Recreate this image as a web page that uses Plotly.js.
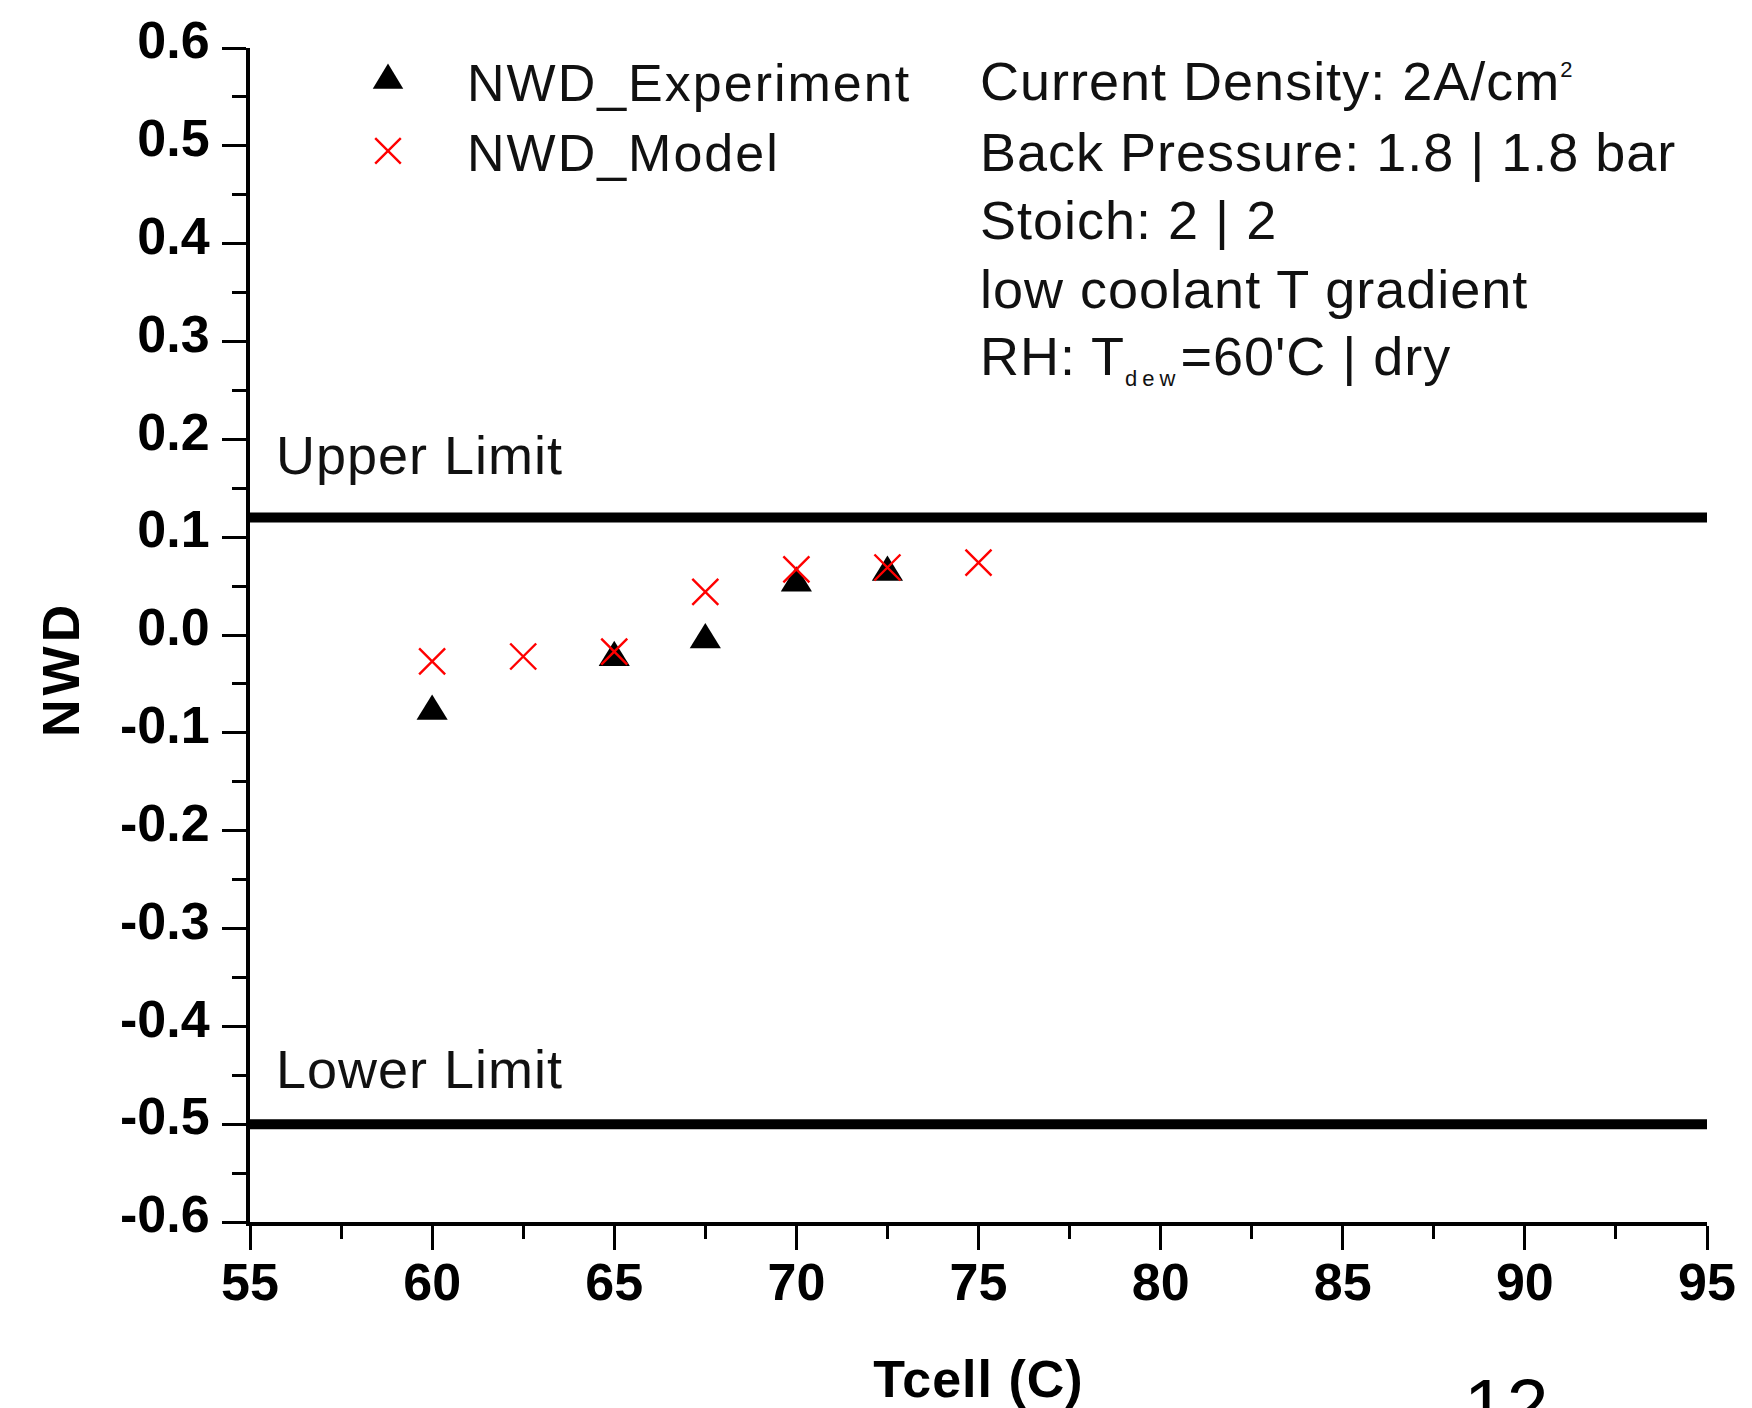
<!DOCTYPE html>
<html>
<head>
<meta charset="utf-8">
<script src="https://cdn.plot.ly/plotly-3.0.1.min.js"></script>
<style>
  html, body { margin: 0; padding: 0; background: #ffffff; }
  #chart { width: 1752px; height: 1408px; }
  text.annotation-text { letter-spacing: 1px; }
  text.legendtext { letter-spacing: 2px; }
  text.xtitle { letter-spacing: 1px; }
</style>
</head>
<body>
<div id="chart"></div>
<script>
// ---- data ----
const expName = 'NWD_Experiment';
const expT = [60, 65, 67.5, 70, 72.5];
const expNWD = [-0.078, -0.023, -0.005, 0.053, 0.064];

const modelName = 'NWD_Model';
const modelT = [60, 62.5, 65, 67.5, 70, 72.5, 75];
const modelNWD = [-0.027, -0.022, -0.017, 0.044, 0.067, 0.069, 0.074];

const limitLabels = ['Upper Limit', 'Lower Limit'];
const limitValues = [0.12, -0.5];
const limitSpan = [55, 95];

const xTickVals = [55, 60, 65, 70, 75, 80, 85, 90, 95];
const xTickText = ['55', '60', '65', '70', '75', '80', '85', '90', '95'];
const yTickVals = [-0.6, -0.5, -0.4, -0.3, -0.2, -0.1, 0.0, 0.1, 0.2, 0.3, 0.4, 0.5, 0.6];
const yTickText = ['-0.6', '-0.5', '-0.4', '-0.3', '-0.2', '-0.1', '0.0', '0.1', '0.2', '0.3', '0.4', '0.5', '0.6'];

const xTitle = 'Tcell (C)';
const yTitle = 'NWD';

const conditionLines = [
  'Current Density: 2A/cm<sup><span style="font-size:22px">2</span></sup>',
  'Back Pressure: 1.8 | 1.8 bar',
  'Stoich: 2 | 2',
  'low coolant T gradient',
  'RH: T<sub><span style="font-size:22px;letter-spacing:5px">dew</span></sub>=60\'C | dry'
];
const pageNumber = '12';

// ---- layout constants ----
const W = 1752, H = 1408;
const M = { l: 250, r: 45, t: 48, b: 186 };
const plotW = W - M.l - M.r, plotH = H - M.t - M.b;
const px2x = (px) => (px - M.l) / plotW;
const px2y = (py) => (H - M.b - py) / plotH;

const textFont = 'Liberation Sans, Arial, sans-serif';
const textColor = '#111111';

const traces = [];
limitValues.forEach((v, i) => {
  traces.push({
    type: 'scatter', mode: 'lines',
    x: limitSpan, y: limitSpan.map(() => v),
    line: { color: '#000000', width: 10 },
    showlegend: false, hoverinfo: 'skip', name: limitLabels[i]
  });
});
traces.push({
  type: 'scatter', mode: 'markers', name: expName,
  x: expT, y: expNWD,
  marker: { symbol: 'triangle-up', size: 27, color: '#000000', line: { width: 0 } }
});
traces.push({
  type: 'scatter', mode: 'markers', name: modelName,
  x: modelT, y: modelNWD,
  marker: { symbol: 'x-thin', size: 26, color: '#ff0000', line: { color: '#ff0000', width: 2.4 } }
});

const annotations = [];
const lineY = [81, 152, 220, 289, 358];
conditionLines.forEach((t, i) => {
  annotations.push({
    xref: 'paper', yref: 'paper', x: px2x(978), y: px2y(lineY[i]),
    xanchor: 'left', yanchor: 'middle', showarrow: false, align: 'left',
    text: t, font: { family: textFont, size: 54, color: textColor }
  });
});
const limitLabelY = [455, 1069];
limitLabels.forEach((t, i) => {
  annotations.push({
    xref: 'paper', yref: 'paper', x: px2x(274), y: px2y(limitLabelY[i]),
    xanchor: 'left', yanchor: 'middle', showarrow: false,
    text: t, font: { family: textFont, size: 54, color: textColor }
  });
});
// y-axis title (placed as rotated text so it sits where the reference has it)
annotations.push({
  xref: 'paper', yref: 'paper', x: px2x(61), y: px2y(669),
  xanchor: 'center', yanchor: 'middle', showarrow: false, textangle: -90,
  text: '<span style="letter-spacing:4px">' + yTitle + '</span>',
  font: { family: textFont, size: 52, color: '#000000', weight: 'bold' }
});
annotations.push({
  xref: 'paper', yref: 'paper', x: px2x(1462), y: px2y(1405),
  xanchor: 'left', yanchor: 'middle', showarrow: false,
  text: pageNumber, font: { family: textFont, size: 75, color: '#000000' }
});

const axisCommon = {
  showline: true, linecolor: '#000000', linewidth: 4,
  ticks: 'outside', ticklen: 24, tickwidth: 3, tickcolor: '#000000',
  showgrid: false, zeroline: false, mirror: false,
  tickfont: { family: textFont, size: 52, color: '#000000', weight: 'bold' },
  tickmode: 'array', fixedrange: true
};

const layout = {
  width: W, height: H,
  margin: M,
  paper_bgcolor: '#ffffff', plot_bgcolor: '#ffffff',
  showlegend: true,
  legend: {
    x: px2x(309), y: px2y(40), xanchor: 'left', yanchor: 'top',
    bgcolor: 'rgba(0,0,0,0)', borderwidth: 0,
    font: { family: textFont, size: 52, color: textColor },
    itemwidth: 148, tracegroupgap: 0, itemclick: false
  },
  xaxis: Object.assign({}, axisCommon, {
    range: [55, 95],
    tickvals: xTickVals, ticktext: xTickText,
    ticklabelstandoff: -12,
    minor: { ticks: 'outside', ticklen: 13, tickwidth: 3, tickcolor: '#000000', dtick: 2.5, showgrid: false },
    title: { text: xTitle, standoff: 56,
      font: { family: textFont, size: 52, color: '#000000', weight: 'bold' } }
  }),
  yaxis: Object.assign({}, axisCommon, {
    range: [-0.6, 0.6],
    tickvals: yTickVals, ticktext: yTickText,
    ticklabelstandoff: 2,
    ticklabelshift: -8,
    minor: { ticks: 'outside', ticklen: 14, tickwidth: 3, tickcolor: '#000000', dtick: 0.05, showgrid: false }
  }),
  annotations: annotations
};

Plotly.newPlot('chart', traces, layout, { staticPlot: true, displayModeBar: false }).then(function (gd) {
  // enlarge the legend keys (Plotly caps legend marker size)
  const items = gd.querySelectorAll('.legend .traces');
  items.forEach(function (item, idx) {
    item.querySelectorAll('.legendpoints path.scatterpts').forEach(function (p) {
      const t = p.getAttribute('transform') || '';
      if (idx === 0) {
        p.setAttribute('transform', t + ' scale(1.65,2.1)');
      } else {
        p.setAttribute('transform', t + ' scale(1.6)');
        p.style.strokeWidth = (2.4 / 1.6) + 'px';
      }
    });
  });
  // the reference triangles are a little taller than Plotly's
  const traceGroups = gd.querySelectorAll('.scatterlayer .trace');
  if (traceGroups[2]) {
    traceGroups[2].querySelectorAll('path.point').forEach(function (p) {
      const t = p.getAttribute('transform') || '';
      p.setAttribute('transform', t + ' scale(1,1.25)');
    });
  }
});
</script>
</body>
</html>
